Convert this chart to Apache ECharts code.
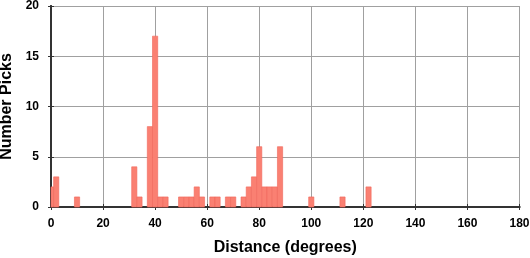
<!DOCTYPE html>
<html><head><meta charset="utf-8">
<script src="https://cdn.jsdelivr.net/npm/echarts@6/dist/echarts.min.js"></script>
<style>html,body{margin:0;padding:0;background:#fff}#c{width:530px;height:258px}</style>
</head><body><div id="c"></div>
<script>
// bin centers (degrees), bin width 2
const binCenters = [0, 2, 10, 32, 34, 38, 40, 42, 44, 50, 52, 54, 56, 58, 62, 64, 68, 70, 74, 76, 78, 80, 82, 84, 86, 88, 100, 112, 122];
const counts     = [2, 3, 1, 4, 1, 8, 17, 1, 1, 1, 1, 1, 2, 1, 1, 1, 1, 1, 1, 2, 3, 6, 2, 2, 2, 6, 1, 1, 2];
const binWidth = 2;
const xTicks = [0, 20, 40, 60, 80, 100, 120, 140, 160, 180];
const yTicks = [0, 5, 10, 15, 20];

const data = binCenters.map((c, i) => [c, counts[i]]);
const font = 'Liberation Sans, Arial, Helvetica, sans-serif';
const axisLineStyle = {color: '#333', width: 2};
const gridLineStyle = {color: '#a0a0a0', width: 1};
const tickStyle = {show: true, inside: false, length: 3, lineStyle: {color: '#333', width: 1}};

const chart = echarts.init(document.getElementById('c'), null, {renderer: 'canvas'});
chart.setOption({
  animation: false,
  grid: {left: 51, right: 10.5, top: 6, bottom: 51, containLabel: false, outerBoundsMode: 'none'},
  xAxis: [{
    type: 'value', min: xTicks[0], max: xTicks[xTicks.length - 1], interval: 20,
    name: 'Distance (degrees)', nameLocation: 'middle', nameGap: 33,
    nameTextStyle: {fontFamily: font, fontWeight: 'bold', fontSize: 16, color: '#000'},
    axisLine: {show: true, lineStyle: axisLineStyle},
    axisTick: tickStyle,
    axisLabel: {margin: 11, fontFamily: font, fontWeight: 'bold', fontSize: 12, color: '#000'},
    splitLine: {show: true, lineStyle: gridLineStyle}
  }, {
    type: 'value', position: 'top', min: 0, max: 180, interval: 20,
    axisLine: {show: true, lineStyle: axisLineStyle},
    axisTick: tickStyle,
    axisLabel: {show: false}, splitLine: {show: false}
  }],
  yAxis: [{
    type: 'value', min: yTicks[0], max: yTicks[yTicks.length - 1], interval: 5,
    name: 'Number Picks', nameLocation: 'middle', nameGap: 36,
    nameTextStyle: {fontFamily: font, fontWeight: 'bold', fontSize: 16, color: '#000'},
    axisLine: {show: true, lineStyle: axisLineStyle},
    axisTick: tickStyle,
    axisLabel: {margin: 12, fontFamily: font, fontWeight: 'bold', fontSize: 12, color: '#000'},
    splitLine: {show: true, lineStyle: gridLineStyle}
  }, {
    type: 'value', position: 'right', min: 0, max: 20, interval: 5,
    axisLine: {show: true, lineStyle: axisLineStyle},
    axisTick: tickStyle,
    axisLabel: {show: false}, splitLine: {show: false}
  }],
  series: [{
    type: 'custom',
    xAxisIndex: 0, yAxisIndex: 0,
    data: data,
    renderItem: function (params, api) {
      const c = api.value(0), v = api.value(1);
      const x0 = Math.max(c - binWidth / 2, 0), x1 = Math.min(c + binWidth / 2, 180);
      const p0 = api.coord([x0, 0]);
      const p1 = api.coord([x1, v]);
      return {
        type: 'rect',
        shape: {x: p0[0], y: p1[1], width: p1[0] - p0[0], height: p0[1] - p1[1]},
        style: {fill: '#fa8072', stroke: '#f0665a', lineWidth: 0.6}
      };
    }
  }]
});
</script></body></html>
